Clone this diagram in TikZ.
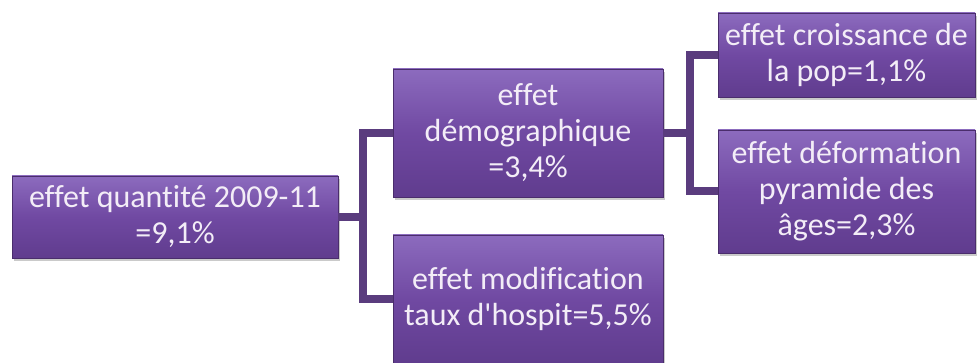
\documentclass[tikz,border=0pt]{standalone}
\usepackage{fontspec}
\setmainfont[Ligatures={NoCommon,NoRequired}]{Carlito}
\usetikzlibrary{shadows}
\definecolor{boxtop}{HTML}{8C6BBE}
\definecolor{boxmid}{HTML}{7049A2}
\definecolor{boxbot}{HTML}{603C8E}
\definecolor{boxedge}{HTML}{4A2D6C}
\definecolor{linkcol}{HTML}{5A3C7E}
\definecolor{txtcol}{HTML}{F3EDF7}
\tikzset{
  pbox/.style={rectangle, draw=boxedge, line width=0.8pt,
    top color=boxtop, bottom color=boxbot, middle color=boxmid,
    text=txtcol, align=center, inner sep=0pt,
    font=\fontsize{32}{36}\selectfont,
    drop shadow={shadow xshift=1.5pt, shadow yshift=-3pt, opacity=0.35, fill=black!60}},
  link/.style={draw=linkcol, line width=8pt}
}
\begin{document}
\begin{tikzpicture}[x=1pt,y=-1pt]
\useasboundingbox (0,0) rectangle (978,363);
\coordinate (j1) at (363,0);
\coordinate (j2) at (690,0);
\node[pbox, minimum width=326pt, minimum height=82pt] (A) at (175,217) {effet quantité 2009-11\\=9,1\%};
\node[pbox, minimum width=270pt, minimum height=128pt] (B) at (528,133) {effet\\démographique\\=3,4\%};
\node[pbox, minimum width=270pt, minimum height=128pt] (C) at (528,299) {effet modification\\taux d\textquotesingle hospit=5,5\%};
\node[pbox, minimum width=257pt, minimum height=84pt] (D) at (846.5,55) {effet croissance de\\la pop=1,1\%};
\node[pbox, minimum width=257pt, minimum height=123pt] (E) at (846.5,191.5) {effet déformation\\pyramide des\\âges=2,3\%};
\draw[link] (A.east) -- (A.east -| j1);
\draw[link] (B.west) -- (B.west -| j1) -- (C.west -| j1) -- (C.west);
\draw[link] (B.east) -- (B.east -| j2);
\draw[link] (D.west) -- (D.west -| j2) -- (E.west -| j2) -- (E.west);
\end{tikzpicture}
\end{document}
